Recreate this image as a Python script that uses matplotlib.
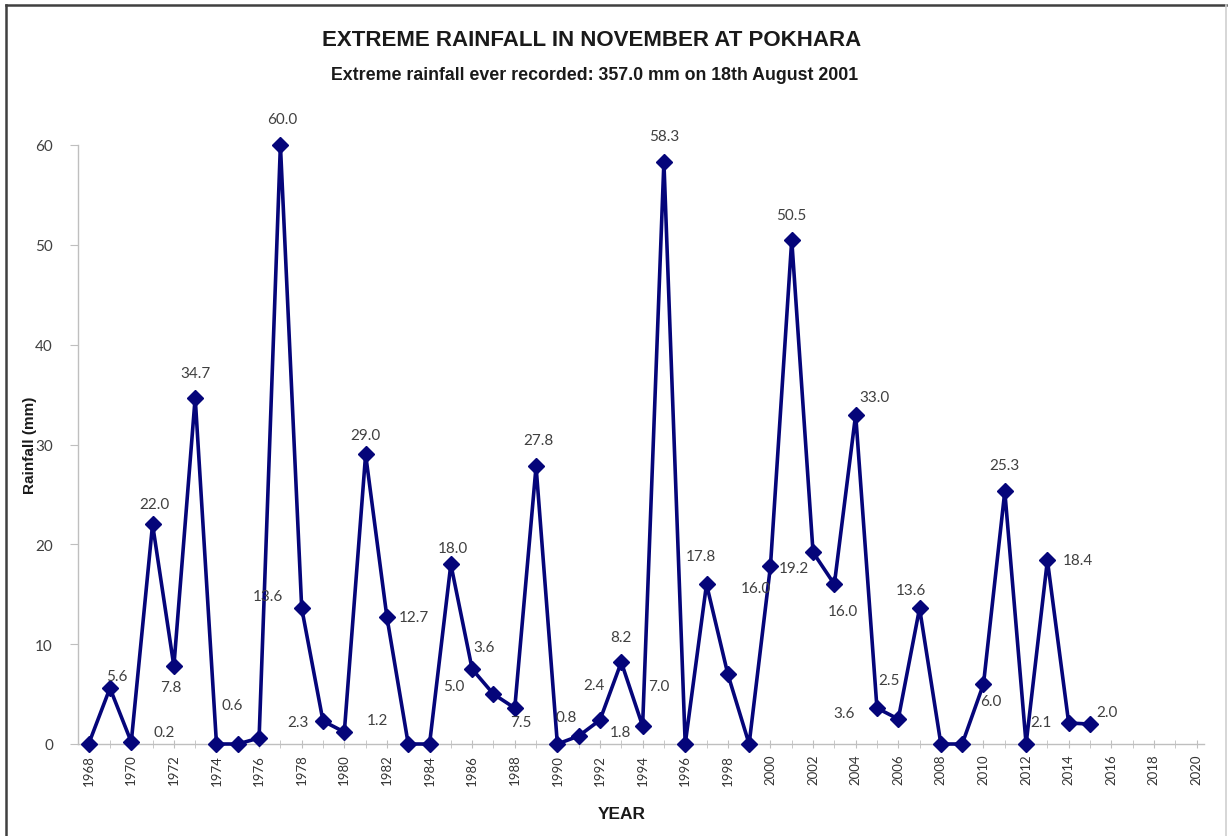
import matplotlib
matplotlib.use("Agg")
import matplotlib.pyplot as plt
from matplotlib.lines import Line2D

# ---- data ----
years = list(range(1968, 2016))
rainfall = [0.0, 5.6, 0.2, 22.0, 7.8, 34.7, 0.0, 0.0, 0.6, 60.0,
            13.6, 2.3, 1.2, 29.0, 12.7, 0.0, 0.0, 18.0, 7.5, 5.0,
            3.6, 27.8, 0.0, 0.8, 2.4, 8.2, 1.8, 58.3, 0.0, 16.0,
            7.0, 0.0, 17.8, 50.5, 19.2, 16.0, 33.0, 3.6, 2.5, 13.6,
            0.0, 0.0, 6.0, 25.3, 0.0, 18.4, 2.1, 2.0]
xticks = list(range(1968, 2021, 2))
yticks = [0, 10, 20, 30, 40, 50, 60]
title = "EXTREME RAINFALL IN NOVEMBER AT POKHARA"
subtitle = "Extreme rainfall ever recorded: 357.0 mm on 18th August 2001"

# label placement (pixel offsets from the point, image-style: +y downwards)
label_offsets = {
    1969: (7, -12), 1970: (33, -10), 1971: (2, -20), 1972: (-3, 21),
    1973: (0, -25), 1976: (-27, -33), 1977: (2, -26), 1978: (-34, -12),
    1979: (-25, 1), 1980: (33, -12), 1981: (0, -19), 1982: (27, 0),
    1985: (2, -16), 1986: (49, 53), 1987: (-40, -8), 1988: (-31, -61),
    1989: (2, -26), 1991: (-12, -19), 1992: (-6, -35), 1993: (0, -25),
    1994: (-22, 6), 1995: (0, -26), 1997: (49, 4), 1998: (-69, 12),
    2000: (-70, -10), 2001: (-1, -25), 2002: (-19, 16), 2003: (9, 27),
    2004: (19, -18), 2005: (-33, 5), 2006: (-9, -39), 2007: (-9, -18),
    2010: (7, 17), 2011: (0, -26), 2013: (31, 0), 2014: (-28, -1),
    2015: (17, -12),
}

W, H = 1228, 837
fig = plt.figure(figsize=(W / 100, H / 100), dpi=100)
fig.patch.set_facecolor("white")

# outer frame: dark top/left, light right
L, R, T = 6 / W, 1226 / W, 1 - 6 / H
fig.add_artist(Line2D([L, R], [T, T], transform=fig.transFigure,
                      color="#404040", linewidth=1.8))
fig.add_artist(Line2D([L, L], [0, T], transform=fig.transFigure,
                      color="#404040", linewidth=1.8))
fig.add_artist(Line2D([R, R], [0, T], transform=fig.transFigure,
                      color="#D0D0D0", linewidth=1.2))

ax = fig.add_axes([78 / W, 1 - 745 / H, (1204 - 78) / W, (745 - 146) / H])
line_color = "#05057A"
ax.plot(years, rainfall, color=line_color, linewidth=2.6, marker="D",
        markersize=8, markerfacecolor=line_color, markeredgecolor=line_color,
        clip_on=False, zorder=3)

for yr, v in zip(years, rainfall):
    if v == 0:
        continue
    dx, dy = label_offsets.get(yr, (0, -22))
    ax.annotate(f"{v:.1f}", xy=(yr, v), xytext=(dx, -dy),
                textcoords="offset pixels", ha="center", va="center",
                fontsize=11, color="#404040", family="Lato",
                annotation_clip=False, zorder=4)

ax.set_xlim(1967.5, 2020.35)
ax.set_ylim(0, 60)
ax.set_xticks(xticks)
ax.set_xticks(years + [2016, 2017, 2018, 2019, 2020], minor=True)
ax.set_xticklabels([str(t) for t in xticks], rotation=90, fontsize=9.5,
                   color="#333333", family="Lato")
ax.set_yticks(yticks)
ax.set_yticklabels([str(t) for t in yticks], fontsize=11, color="#404040",
                   family="Lato")

for s in ["top", "right"]:
    ax.spines[s].set_visible(False)
for s in ["left", "bottom"]:
    ax.spines[s].set_color("#BFBFBF")
    ax.spines[s].set_linewidth(1.0)
ax.tick_params(axis="x", which="both", direction="inout", length=6,
               color="#BFBFBF", pad=4)
ax.tick_params(axis="y", direction="out", length=6, color="#BFBFBF", pad=12)

fig.text(592 / W, 1 - 40 / H, title, ha="center", va="center",
         fontsize=16, fontweight="bold", family="Liberation Sans",
         color="#1a1a1a")
fig.text(595 / W, 1 - 75 / H, subtitle, ha="center", va="center",
         fontsize=12.8, fontweight="bold", family="Liberation Sans",
         color="#1a1a1a")
fig.text(30 / W, 1 - 445 / H, "Rainfall (mm)", rotation=90, ha="center",
         va="center", fontsize=11, fontweight="bold",
         family="Liberation Sans", color="#1a1a1a")
fig.text(622 / W, 1 - 815 / H, "YEAR", ha="center", va="center",
         fontsize=12.5, fontweight="bold", family="Liberation Sans",
         color="#1a1a1a")

fig.savefig("out.png", dpi=100)
